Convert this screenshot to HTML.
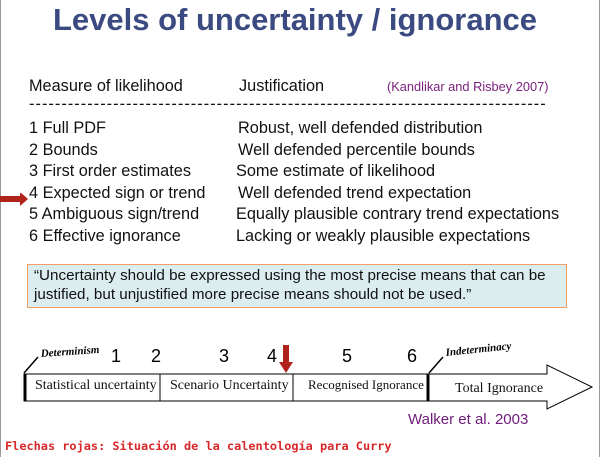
<!DOCTYPE html>
<html><head><meta charset="utf-8"><style>
body{margin:0;width:600px;height:457px;background:#fff;position:relative;overflow:hidden;font-family:"Liberation Sans",sans-serif;}
.a{position:absolute;white-space:nowrap;}
.t{font-size:16.3px;color:#111;line-height:18px;}
.s{font-family:"Liberation Serif",serif;font-size:13px;color:#111;}
</style></head><body>
<div class="a" style="left:0;top:0;width:1px;height:457px;background:#999"></div>
<div class="a" style="left:599px;top:0;width:1px;height:457px;background:#999"></div>
<div class="a" style="left:0;top:2px;width:590px;text-align:center;font-size:31px;font-weight:bold;color:#3b4a80;">Levels of uncertainty / ignorance</div>
<div class="a t" style="left:29px;top:77px">Measure of likelihood</div>
<div class="a t" style="left:239px;top:77px">Justification</div>
<div class="a" style="left:387px;top:79px;font-size:12.8px;color:#7a1f7a">(Kandlikar and Risbey 2007)</div>
<div class="a t" style="left:29px;top:95px;letter-spacing:1.05px">--------------------------------------------------------------------------------</div>
<div class="a t" style="left:29px;top:119px">1 Full PDF</div>
<div class="a t" style="left:29px;top:141px">2 Bounds</div>
<div class="a t" style="left:29px;top:162px">3 First order estimates</div>
<div class="a t" style="left:29px;top:184px">4 Expected sign or trend</div>
<div class="a t" style="left:29px;top:205px">5 Ambiguous sign/trend</div>
<div class="a t" style="left:29px;top:227px">6 Effective ignorance</div>
<div class="a t" style="left:238px;top:119px">Robust, well defended distribution</div>
<div class="a t" style="left:238px;top:141px">Well defended percentile bounds</div>
<div class="a t" style="left:236px;top:162px">Some estimate of likelihood</div>
<div class="a t" style="left:238px;top:184px">Well defended trend expectation</div>
<div class="a t" style="left:236px;top:205px">Equally plausible contrary trend expectations</div>
<div class="a t" style="left:236px;top:227px">Lacking or weakly plausible expectations</div>
<svg class="a" style="left:0;top:193px" width="30" height="20"><polygon points="0,3 0,9 20,9 20,13 28,6 20,-1 20,3" fill="#b0231b"/></svg>
<div class="a" style="left:27px;top:264px;width:538px;height:42px;background:#dcedf0;border:1px solid #f0a060"></div>
<div class="a" style="left:34px;top:266px;font-size:15.2px;line-height:19px;color:#111">“Uncertainty should be expressed using the most precise means that can be<br>justified, but unjustified more precise means should not be used.”</div>
<svg class="a" style="left:0;top:335px" width="600" height="85">
<polygon points="24,39 547,39 547,30 592,52 547,74 547,66 24,66" fill="#fff" stroke="#000" stroke-width="1"/>
<line x1="25" y1="39" x2="25" y2="66" stroke="#000" stroke-width="3"/>
<line x1="160" y1="39" x2="160" y2="66" stroke="#000" stroke-width="1"/>
<line x1="293" y1="39" x2="293" y2="66" stroke="#000" stroke-width="1"/>
<line x1="428" y1="39" x2="428" y2="66" stroke="#000" stroke-width="3"/>
<line x1="24" y1="38" x2="38" y2="22" stroke="#000" stroke-width="1.5"/>
<line x1="429" y1="38" x2="443" y2="22" stroke="#000" stroke-width="1.5"/>
<text x="41" y="22" font-family="Liberation Serif" font-style="italic" font-weight="bold" font-size="11" transform="rotate(-4 41 22)">Determinism</text>
<text x="446" y="21" font-family="Liberation Serif" font-style="italic" font-weight="bold" font-size="11" transform="rotate(-6 446 21)">Indeterminacy</text>
<g font-family="Liberation Sans" font-size="18" fill="#000">
<text x="111" y="27">1</text><text x="151" y="27">2</text><text x="219" y="27">3</text><text x="267" y="27">4</text><text x="342" y="27">5</text><text x="407" y="27">6</text>
</g>
<polygon points="283,10 289,10 289,27 293,27 286,38 279,27 283,27" fill="#b0231b"/>
</svg>
<div class="a s" style="left:35px;top:378px;font-size:14px">Statistical uncertainty</div>
<div class="a s" style="left:170px;top:378px;font-size:14px">Scenario Uncertainty</div>
<div class="a s" style="left:308px;top:377px;font-size:13px">Recognised Ignorance</div>
<div class="a s" style="left:455px;top:381px;font-size:14px">Total Ignorance</div>
<div class="a" style="left:408px;top:411px;font-size:15px;color:#6e1d7a">Walker et al. 2003</div>
<div class="a" style="left:5px;top:439px;font-family:'DejaVu Sans Mono',monospace;font-size:11.9px;font-weight:bold;color:#d8282a">Flechas rojas: Situación de la calentología para Curry</div>
</body></html>
